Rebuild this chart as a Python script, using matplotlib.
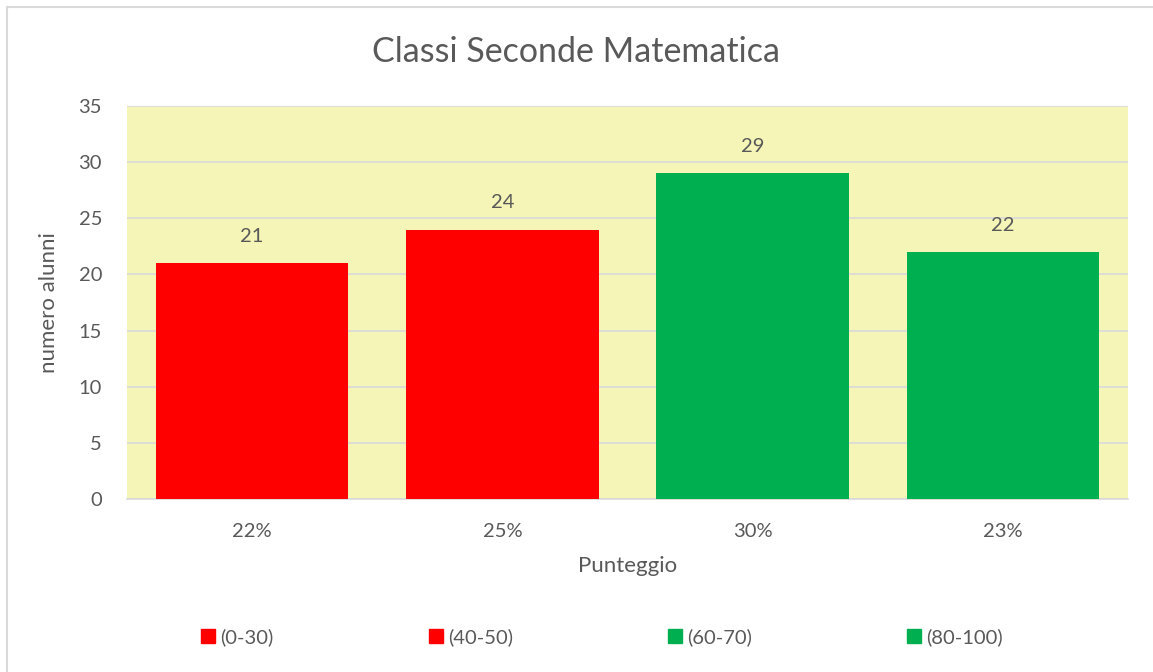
import matplotlib
matplotlib.use("Agg")
import matplotlib.pyplot as plt
from matplotlib.patches import Patch, Rectangle

categories = ["22%", "25%", "30%", "23%"]
values = [21, 24, 29, 22]
legend_labels = ["(0-30)", "(40-50)", "(60-70)", "(80-100)"]
colors = ["#FF0000", "#FF0000", "#00B050", "#00B050"]

plt.rcParams['font.family'] = ['Lato', 'DejaVu Sans']
txt = "#595959"

fig = plt.figure(figsize=(11.53, 6.72), dpi=100)
fig.patches.append(Rectangle((7/1153, -0.05), 1.1, 1 - 7/672 + 0.05, transform=fig.transFigure,
                             facecolor="white", edgecolor="#D9D9D9", linewidth=1.5, zorder=-10))
ax = fig.add_axes([127/1153, 1 - 499/672, 1001/1153, 393/672])
ax.set_facecolor("#F4F5B6")
x = range(len(categories))
bars = ax.bar(x, values, width=0.77, color=colors, zorder=3)
for b, v in zip(bars, values):
    ax.annotate(str(v), (b.get_x() + b.get_width()/2, v), xytext=(0, 13), textcoords="offset points",
                ha="center", va="bottom", fontsize=14.5, color=txt)
ax.set_xlim(-0.5, 3.5)
ax.set_ylim(0, 35)
ax.set_yticks(range(0, 36, 5))
ax.set_xticks(list(x))
ax.set_xticklabels(categories)
ax.grid(axis="y", color="#D9D9D9", linewidth=1.2, zorder=0)
ax.set_axisbelow(True)
for s in ["top", "right", "left"]:
    ax.spines[s].set_visible(False)
ax.spines["bottom"].set_color("#D9D9D9")
ax.spines["bottom"].set_linewidth(1.2)
ax.tick_params(axis="both", length=0, labelsize=14.5, colors=txt)
ax.tick_params(axis="x", pad=17)
ax.tick_params(axis="y", pad=18)
ax.set_xlabel("Punteggio", fontsize=16, color=txt, labelpad=12)
ax.set_ylabel("numero alunni", fontsize=16, color=txt, labelpad=14)
fig.text(0.5, 1 - 52/672, "Classi Seconde Matematica", ha="center", va="center", fontsize=24.5, color=txt)

handles = [Patch(facecolor=c, edgecolor=c) for c in colors]
fig.legend(handles, legend_labels, loc="center", bbox_to_anchor=(0.522, 1 - 637/672), ncol=4,
           frameon=False, fontsize=14.5, labelcolor=txt, handlelength=0.7, handleheight=0.7,
           handletextpad=0.25, columnspacing=7.7)
fig.savefig("out.png", dpi=100)
